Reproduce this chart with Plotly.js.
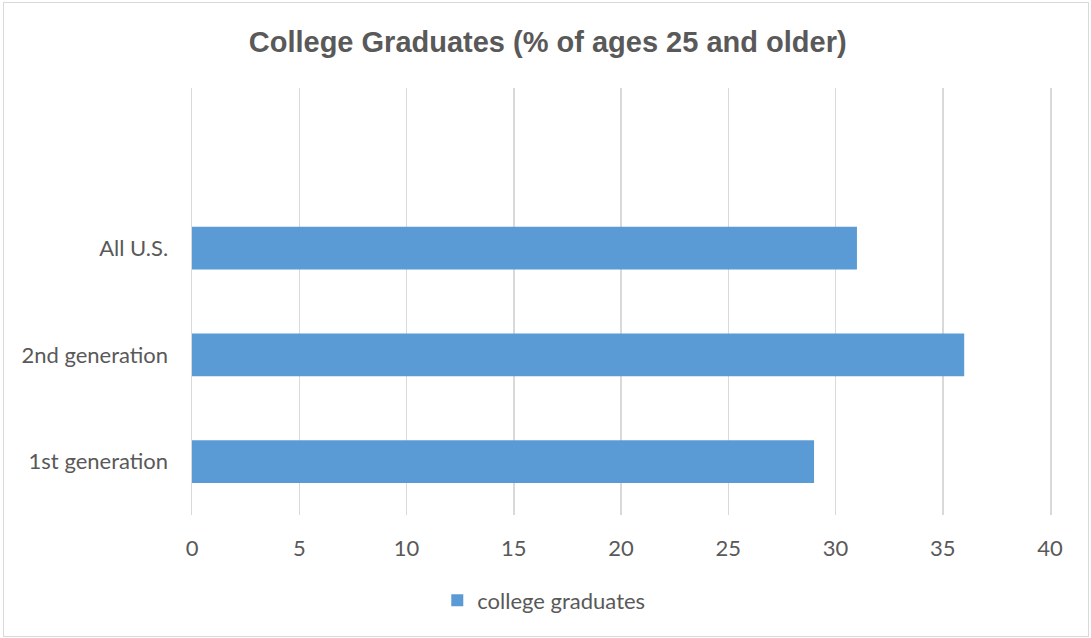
<!DOCTYPE html>
<html>
<head>
<meta charset="utf-8">
<script src="https://cdn.plot.ly/plotly-3.0.1.min.js"></script>
<style>
body{margin:0;padding:0;background:#fff;}
#wrap{position:relative;width:1091px;height:638px;}
#chart{width:1091px;height:638px;}
#frame{position:absolute;left:3px;top:2px;width:1084px;height:633px;border:1px solid #d9d9d9;pointer-events:none;}
</style>
</head>
<body>
<div id="wrap"><div id="chart"></div><div id="frame"></div></div>
<script>
const categories = ["1st generation", "2nd generation", "All U.S."];
const values = [29, 36, 31];
const seriesName = "college graduates";
const xTicks = [0, 5, 10, 15, 20, 25, 30, 35, 40];

const labelFont = {family: "Lato, sans-serif", size: 22, color: "#595959"};

const trace = {
  type: "bar",
  orientation: "h",
  y: categories,
  x: values,
  name: seriesName,
  width: 0.4,
  marker: {color: "#5b9bd5"},
  showlegend: true,
  hoverinfo: "x+y"
};

const layout = {
  width: 1091,
  height: 638,
  margin: {l: 192, r: 41, t: 88, b: 123},
  paper_bgcolor: "#ffffff",
  plot_bgcolor: "#ffffff",
  font: {family: "Lato, sans-serif"},
  title: {
    text: "<b>College Graduates (% of ages 25 and older)</b>",
    font: {family: "Arial", size: 29, color: "#595959"},
    x: 0.502, xanchor: "center", xref: "container",
    y: 0.934, yanchor: "middle", yref: "container"
  },
  xaxis: {
    range: [0, 40],
    tickvals: xTicks,
    ticktext: xTicks.map(String),
    showgrid: true,
    gridcolor: "#d9d9d9",
    gridwidth: 1.5,
    zeroline: false,
    showline: false,
    ticks: "",
    ticklabelstandoff: 18,
    tickfont: labelFont,
    fixedrange: true
  },
  yaxis: {
    type: "category",
    categoryorder: "array",
    categoryarray: categories,
    range: [-0.5, 3.5],
    showgrid: false,
    zeroline: false,
    showline: true,
    mirror: true,
    linecolor: "#d9d9d9",
    linewidth: 1.5,
    ticks: "",
    ticklabelstandoff: 18,
    tickfont: labelFont,
    fixedrange: true
  },
  showlegend: true,
  legend: {
    orientation: "h",
    x: 0.41, xanchor: "center",
    y: -0.2, yanchor: "middle",
    itemwidth: 30,
    font: labelFont,
    bgcolor: "rgba(0,0,0,0)"
  }
};

Plotly.newPlot("chart", [trace], layout, {displayModeBar: false, staticPlot: true});
</script>
</body>
</html>
